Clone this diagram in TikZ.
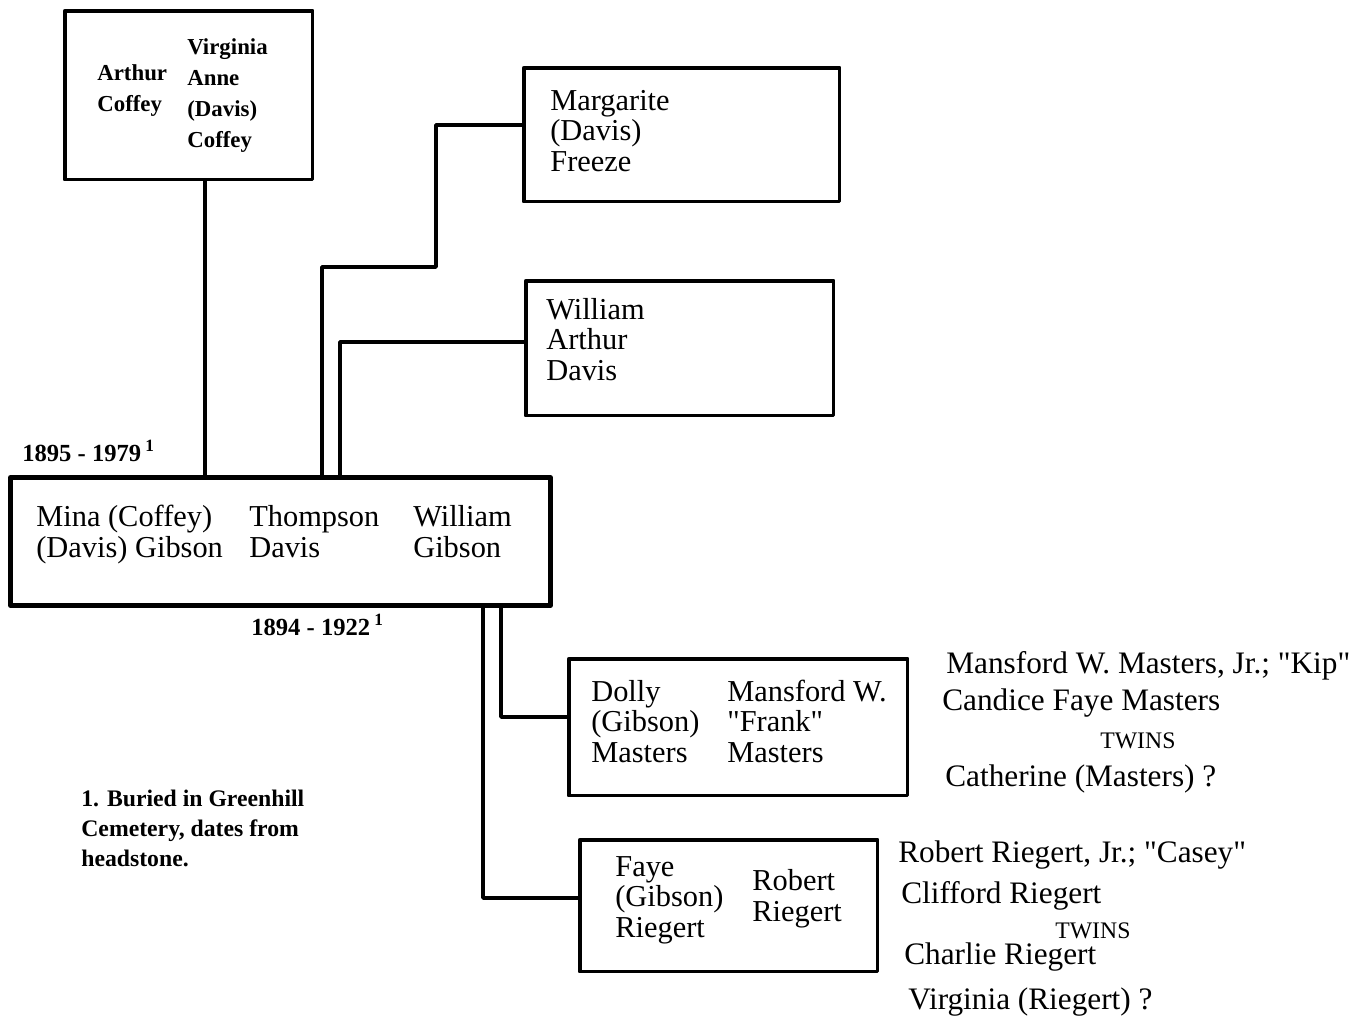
\documentclass[tikz,border=0pt]{standalone}
\usepackage{fontspec}
\setmainfont{Liberation Serif}
\begin{document}
\begin{tikzpicture}[x=0.02cm,y=-0.02cm,line cap=round,line join=round,
  famBox/.style={draw,line width=2pt,anchor=north west,inner sep=0pt},
  mainBox/.style={famBox,line width=2.8pt},
  link/.style={line width=2.1pt},
  pname/.style={anchor=base west,align=left,inner sep=0pt,font=\fontsize{17.3}{17.3}\selectfont},
  oldname/.style={pname,font=\bfseries\fontsize{13}{17.5}\selectfont},
  kid/.style={pname,font=\fontsize{17.8}{17}\selectfont},
  twins/.style={pname,font=\fontsize{13.5}{13}\selectfont},
  dates/.style={pname,font=\bfseries\fontsize{14}{14}\selectfont},
  fnote/.style={pname,font=\bfseries\fontsize{13.5}{17}\selectfont}]
  \useasboundingbox (0,0) rectangle (1367,1021);
  % boxes
  \node[famBox,minimum width=4.96cm,minimum height=3.38cm] (coffey) at (63,9) {};
  \node[famBox,minimum width=6.32cm,minimum height=2.68cm] (margarite) at (522,66) {};
  \node[famBox,minimum width=6.16cm,minimum height=2.70cm] (wad) at (524,279) {};
  \node[mainBox,minimum width=10.8cm,minimum height=2.56cm] (mina) at (8,475) {};
  \node[famBox,minimum width=6.78cm,minimum height=2.74cm] (dolly) at (567,657) {};
  \node[famBox,minimum width=5.96cm,minimum height=2.64cm] (faye) at (578,838) {};
  % names in boxes (placed by the baseline of the last line)
  \node[oldname] (arthur) at (97,111) {Arthur\\Coffey};
  \node[oldname] (virginia) at (187,147) {Virginia\\Anne\\(Davis)\\Coffey};
  \node[pname] (margt) at (550,171) {Margarite\\(Davis)\\Freeze};
  \node[pname] (wadt) at (546,380) {William\\Arthur\\Davis};
  \node[pname] (minat) at (36,557) {Mina (Coffey)\\(Davis) Gibson};
  \node[pname] (thompson) at (249,557) {Thompson\\Davis};
  \node[pname] (wgibson) at (413,557) {William\\Gibson};
  \node[pname] (dollyt) at (591,762) {Dolly\\(Gibson)\\Masters};
  \node[pname] (mansford) at (727,762) {Mansford W.\\\textquotedbl Frank\textquotedbl\\Masters};
  \node[pname] (fayet) at (615,937) {Faye\\(Gibson)\\Riegert};
  \node[pname] (robert) at (752,921) {Robert\\Riegert};
  % dates
  \node[dates] (minadates) at (22,461) {1895 - 1979\,$^{\mathbf{1}}$};
  \node[dates] (tdates) at (251,635) {1894 - 1922\,$^{\mathbf{1}}$};
  % children
  \node[kid] (kip) at (946,673) {Mansford W. Masters, Jr.; \textquotedbl Kip\textquotedbl};
  \node[kid] (candice) at (942,710) {Candice Faye Masters};
  \node[twins] (twinsa) at (1100,748) {TWINS};
  \node[kid] (catherine) at (945,786) {Catherine (Masters) ?};
  \node[kid] (casey) at (898,862) {Robert Riegert, Jr.; \textquotedbl Casey\textquotedbl};
  \node[kid] (clifford) at (901,903) {Clifford Riegert};
  \node[twins] (twinsb) at (1055,938) {TWINS};
  \node[kid] (charlie) at (904,964) {Charlie Riegert};
  \node[kid] (virginiar) at (908,1009) {Virginia (Riegert) ?};
  % footnote
  \node[fnote] (footnote) at (81,866) {1. Buried in Greenhill\\Cemetery, dates from\\headstone.};
  % connectors
  \draw[link] (205,0 |- coffey.south) -- (205,0 |- mina.north);
  \draw[link] (322,0 |- mina.north) |- (436,267) |- (margarite.west |- 0,125);
  \draw[link] (340,0 |- mina.north) |- (wad.west |- 0,342);
  \draw[link] (501,0 |- mina.south) |- (dolly.west |- 0,717);
  \draw[link] (483,0 |- mina.south) |- (faye.west |- 0,898);
\end{tikzpicture}
\end{document}
